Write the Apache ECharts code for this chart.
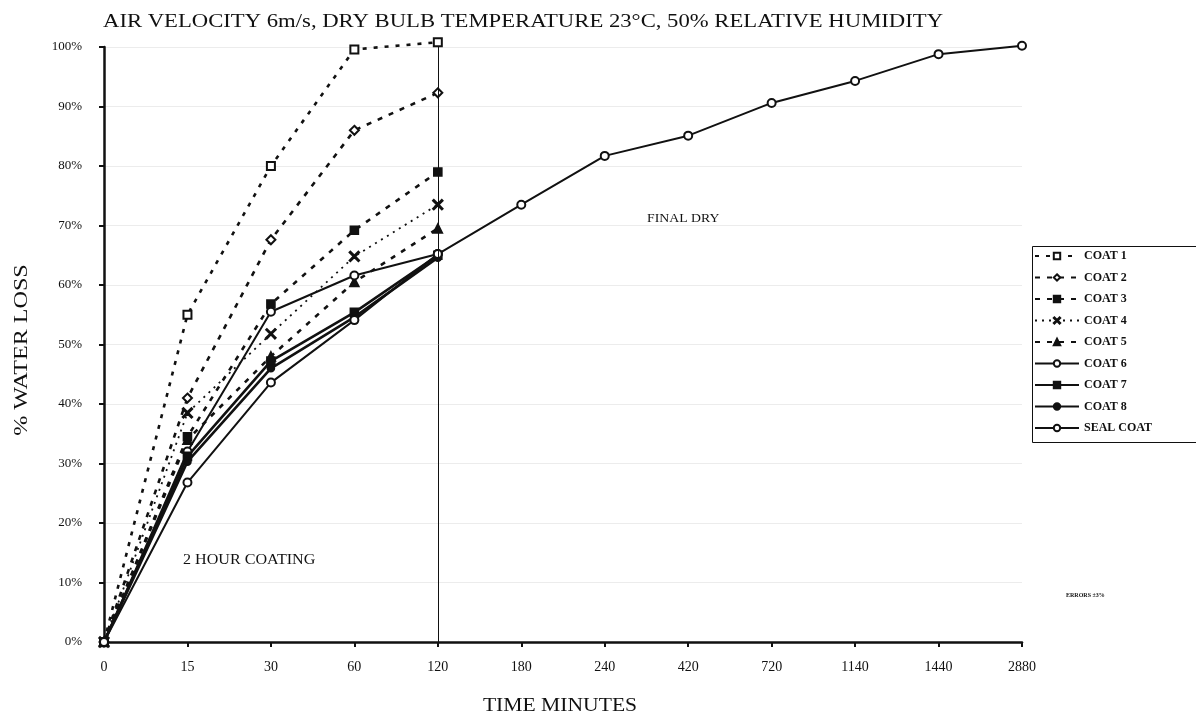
<!DOCTYPE html>
<html><head><meta charset="utf-8">
<script src="https://cdn.jsdelivr.net/npm/echarts@6/dist/echarts.min.js"></script>
<style>html,body{margin:0;padding:0;background:#fff}#c{width:1196px;height:719px}</style>
</head><body><div id="c"></div>
<script>
const categories = ['0','15','30','60','120','180','240','420','720','1140','1440','2880'];
const yTicks = [0,10,20,30,40,50,60,70,80,90,100];
const coat1 = [0,55,80,99.6,100.8];
const coat2 = [0,41,67.6,86,92.3];
const coat3 = [0,34.5,56.8,69.2,79];
const coat4 = [0,38.5,51.8,64.8,73.5];
const coat5 = [0,34,48,60.5,69.5];
const coat6 = [0,32,55.5,61.6,65.2];
const coat7 = [0,31.2,47.2,55.4,65];
const coat8 = [0,30.3,46,54.6,64.6];
const sealCoat = [0,26.8,43.6,54.1,65.2,73.5,81.7,85.1,90.6,94.3,98.8,100.2];

const F = 'Liberation Serif, Times New Roman, serif';
const K = '#111';
const crossPath = 'path://M0,1L1,0L5,4L9,0L10,1L6,5L10,9L9,10L5,6L1,10L0,9L4,5Z';

function s(name, data, symbol, dash, size, width){
  return {
    name, type:'line', data, symbol, symbolSize: size, clip:false,
    showAllSymbol:true,
    lineStyle:{color:K, width: width, type: dash},
    itemStyle:{color:K, borderColor:K, borderWidth:1.6},
    emphasis:{disabled:true}
  };
}
const series = [
  s('COAT 1', coat1, 'emptyRect', [4,7], 8, 2.6),
  s('COAT 2', coat2, 'emptyDiamond', [5,7], 9, 2.6),
  s('COAT 3', coat3, 'rect', [5,7], 8, 2.6),
  s('COAT 4', coat4, crossPath, [2,5], 10, 1.8),
  s('COAT 5', coat5, 'triangle', [5,7], 9, 2.6),
  s('COAT 6', coat6, 'emptyCircle', 'solid', 8, 2),
  s('COAT 7', coat7, 'rect', 'solid', 8, 2.6),
  s('COAT 8', coat8, 'circle', 'solid', 7, 2.6),
  s('SEAL COAT', sealCoat, 'emptyCircle', 'solid', 8, 2)
];
series[8].markLine = {
  silent:true, symbol:'none', label:{show:false},
  lineStyle:{color:K, width:1, type:'solid'},
  data:[{xAxis:'120'}]
};

const chart = echarts.init(document.getElementById('c'));
chart.setOption({
  animation:false,
  backgroundColor:'#fff',
  grid:{left:104, right:174, top:47, bottom:77, containLabel:false},
  legend:{
    orient:'vertical', left:1034, top:250, itemGap:9.5,
    itemWidth:44, itemHeight:8, padding:0,
    data: series.map(x=>x.name),
    textStyle:{fontFamily:F, fontSize:12, fontWeight:'bold', color:K},
    selectedMode:false
  },
  xAxis:{
    type:'category', data:categories, boundaryGap:false,
    axisLine:{lineStyle:{color:K, width:2.5}},
    axisTick:{show:true, alignWithLabel:true, length:5, lineStyle:{color:K, width:2}},
    axisLabel:{fontFamily:F, fontSize:14, color:K, margin:18},
    splitLine:{show:false}
  },
  yAxis:{
    type:'value', min:0, max:100, interval:10,
    axisLine:{show:true, lineStyle:{color:K, width:2.5}},
    axisTick:{show:true, length:5, lineStyle:{color:K, width:2}},
    axisLabel:{fontFamily:F, fontSize:13, color:K, margin:22,
      formatter: v => (yTicks.indexOf(v)>=0 ? v + '%' : '')},
    splitLine:{show:true, lineStyle:{color:'#ececec', width:1}}
  },
  graphic:[
    {type:'text', x:103, y:22, scaleX:1.26,
      style:{text:'AIR VELOCITY 6m/s, DRY BULB TEMPERATURE 23°C, 50% RELATIVE HUMIDITY',
        font:'18px '+F, fill:K, textAlign:'left', textVerticalAlign:'middle'}},
    {type:'text', x:560, y:706, scaleX:1.2,
      style:{text:'TIME MINUTES', font:'18px '+F, fill:K, textAlign:'center', textVerticalAlign:'middle'}},
    {type:'text', x:22, y:350, scaleX:1.34, rotation:Math.PI/2,
      style:{text:'% WATER LOSS', font:'18px '+F, fill:K, textAlign:'center', textVerticalAlign:'middle'}},
    {type:'rect', left:1030, top:244, shape:{width:200, height:196},
      style:{fill:'none', stroke:K, lineWidth:1}, z:0},
    {type:'text', x:183, y:560, scaleX:1.15,
      style:{text:'2 HOUR COATING', font:'14px '+F, fill:K, textAlign:'left', textVerticalAlign:'middle'}},
    {type:'text', x:647, y:219, scaleX:1.06,
      style:{text:'FINAL DRY', font:'13px '+F, fill:K, textAlign:'left', textVerticalAlign:'middle'}},
    {type:'text', left:1066, top:592,
      style:{text:'ERRORS ±3%', font:'bold 6px '+F, fill:K}}
  ],
  series
});
</script></body></html>
